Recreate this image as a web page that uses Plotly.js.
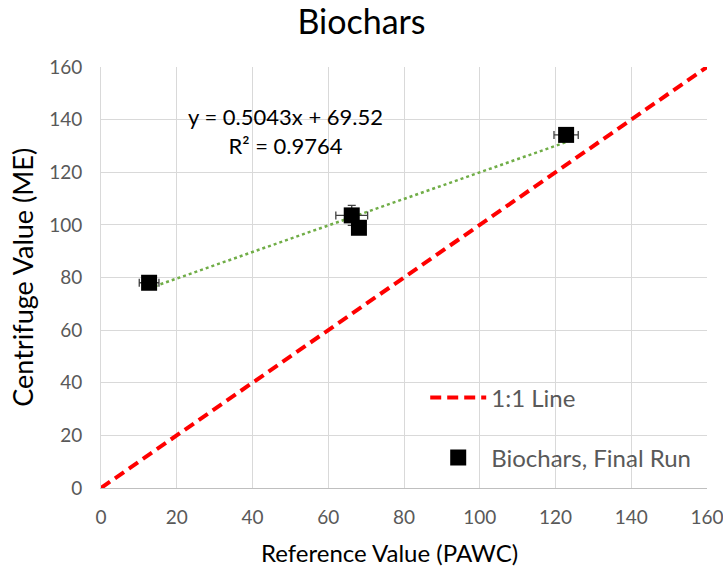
<!DOCTYPE html>
<html><head><meta charset="utf-8">
<script src="https://cdn.plot.ly/plotly-3.0.1.min.js"></script>
<style>body{margin:0;background:#fff}</style>
</head><body><div id="chart" style="width:723px;height:571px"></div>
<script>
const refX = [12.7, 66.2, 68.1, 122.8];
const centY = [78.0, 103.6, 98.9, 134.2];
const errX = [2.6, 4.2, 1.5, 3.2];
const errY = [1.5, 3.8, 1.5, 1.5];
const oneToOne = [0, 160];
const slope = 0.5043, intercept = 69.52;
const eqText = "y = 0.5043x + 69.52<br>R² = 0.9764";
const xTitle = 'Reference Value (PAWC)';
const yTitle = 'Centrifuge Value (ME)';

const fontFam = "Lato, 'Open Sans', sans-serif";
const trendX = [Math.min(...refX), Math.max(...refX)];
const trendY = trendX.map(v => slope * v + intercept);

const traces = [
  {x: oneToOne, y: oneToOne, mode: 'lines', name: '1:1 Line', legend: 'legend',
   line: {color: '#FF0000', width: 4, dash: '11px,6px'}, cliponaxis: false},
  {x: trendX, y: trendY, mode: 'lines', showlegend: false, hoverinfo: 'skip',
   line: {color: '#70AD47', width: 2.5, dash: 'dot'}},
  {x: refX, y: centY, mode: 'markers', name: 'Biochars, Final Run', legend: 'legend2',
   marker: {symbol: 'square', size: 16, color: '#000000'},
   error_x: {type: 'data', array: errX, visible: true, color: '#404040', thickness: 1.3, width: 4},
   error_y: {type: 'data', array: errY, visible: true, color: '#404040', thickness: 1.3, width: 4}}
];

const legendBase = {xanchor: 'left', yanchor: 'middle', bgcolor: 'rgba(0,0,0,0)', itemwidth: 56,
                    font: {size: 24, color: '#595959'}};

const layout = {
  width: 723, height: 571,
  margin: {l: 101, r: 16, t: 67, b: 83},
  paper_bgcolor: '#fff', plot_bgcolor: '#fff',
  font: {family: fontFam, color: '#595959', size: 19},
  title: {text: 'Biochars', x: 0.5, xanchor: 'center', y: 0.962, yanchor: 'middle',
          font: {family: fontFam, size: 34, color: '#000'}},
  xaxis: {range: [0, 160], dtick: 20, showgrid: true, gridcolor: '#D9D9D9', gridwidth: 1,
          zeroline: false, showline: true, linecolor: '#BFBFBF', linewidth: 1,
          ticks: '', ticklabelstandoff: 12, ticklabeloverflow: 'allow',
          tickfont: {size: 19, color: '#595959'}},
  yaxis: {range: [0, 160], dtick: 20, showgrid: true, gridcolor: '#D9D9D9', gridwidth: 1,
          zeroline: false, showline: true, linecolor: '#D9D9D9', linewidth: 1,
          ticks: '', ticklabelstandoff: 14, tickfont: {size: 19, color: '#595959'}},
  legend: Object.assign({x: 0.535, y: (488 - 398) / 421}, legendBase),
  legend2: Object.assign({x: 0.535, y: (488 - 458) / 421}, legendBase),
  annotations: [
    {xref: 'paper', yref: 'paper', x: 0.305, y: 0.847, xanchor: 'center', yanchor: 'middle',
     text: eqText, showarrow: false, align: 'center',
     font: {family: fontFam, size: 22, color: '#000'}},
    {xref: 'paper', yref: 'paper', x: 0.476, y: -0.154, xanchor: 'center', yanchor: 'middle',
     text: xTitle, showarrow: false, font: {family: fontFam, size: 24, color: '#000'}},
    {xref: 'paper', yref: 'paper', x: -0.13, y: 0.5, xanchor: 'center', yanchor: 'middle',
     text: yTitle, showarrow: false, textangle: -90, font: {family: fontFam, size: 27, color: '#000'}}
  ],
  showlegend: true
};

Plotly.newPlot('chart', traces, layout, {displayModeBar: false, staticPlot: true});
</script></body></html>
